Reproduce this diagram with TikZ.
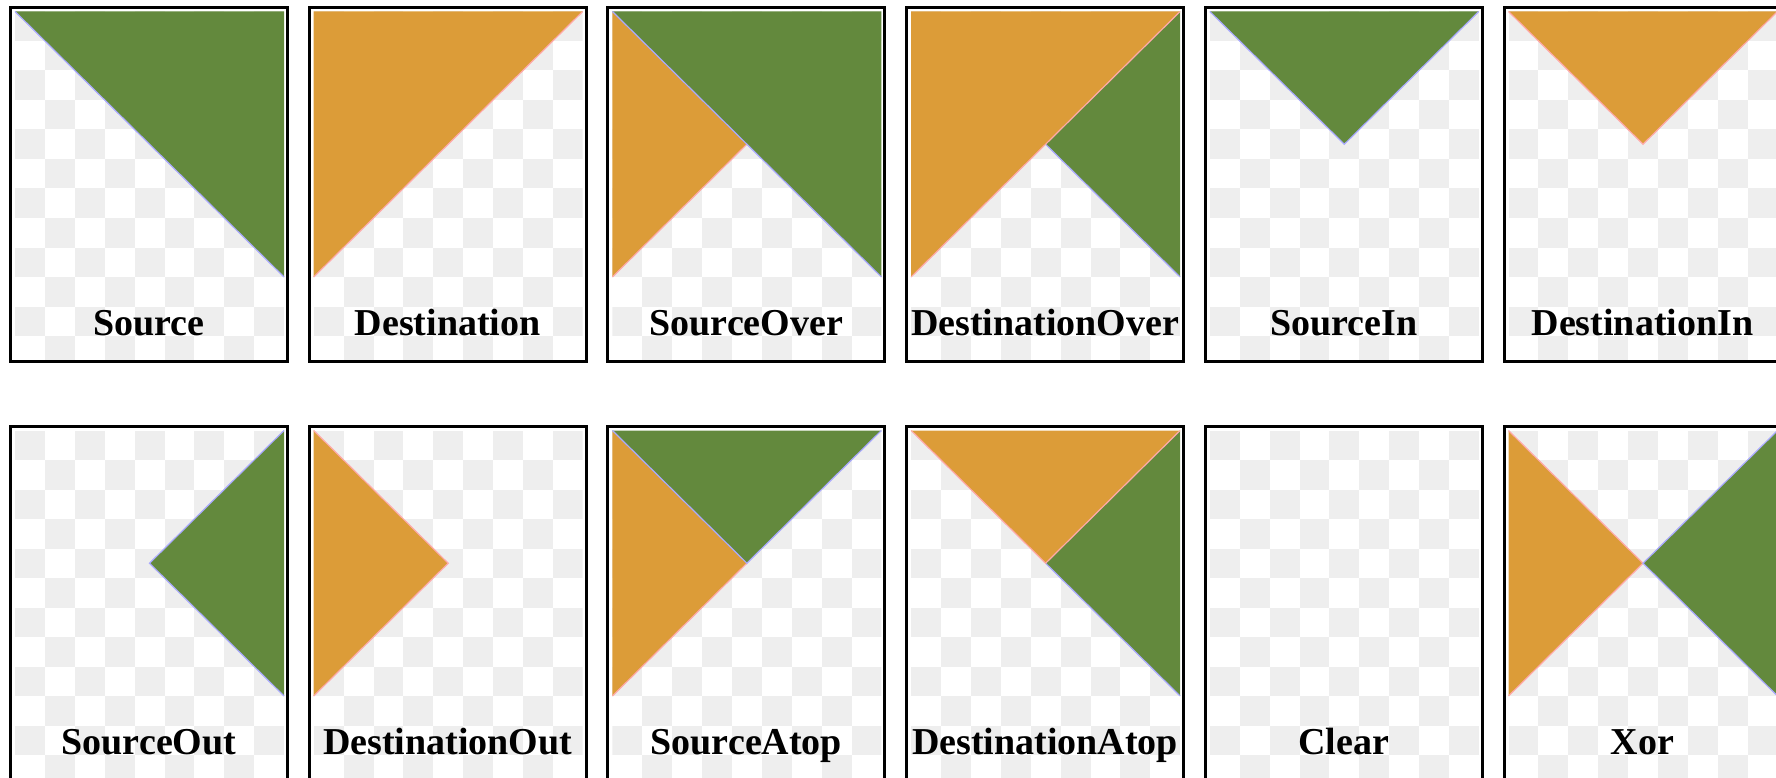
\documentclass[tikz,border=0pt]{standalone}
\usepackage{fontspec}
\setmainfont{Liberation Serif}
\definecolor{src}{RGB}{99,137,61}
\definecolor{dst}{RGB}{220,156,56}
\definecolor{srcedge}{RGB}{170,170,255}
\definecolor{dstedge}{RGB}{255,170,170}
\definecolor{chk}{RGB}{238,238,238}
\tikzset{
  srcfill/.style={fill=src},
  dstfill/.style={fill=dst},
  srcline/.style={draw=srcedge, line width=1.2pt},
  dstline/.style={draw=dstedge, line width=1.2pt},
  frame/.style={draw=black, line width=3pt},
  lbl/.style={font=\fontsize{38}{40}\selectfont\bfseries, anchor=base, inner sep=0pt},
}
\newcommand{\chkboard}{%
  \begin{scope}
    \clip (6,3) rectangle (275,354);
    \foreach \i in {0,...,8}{\foreach \j in {0,...,11}{%
      \pgfmathtruncatemacro{\chkpar}{mod(\i+\j,2)}%
      \ifnum\chkpar=0 \fill[chk] ({6+29.9*\i},{5.5+29.5*\j}) rectangle ++(29.9,29.5);\fi
    }}
  \end{scope}
  \coordinate (LT) at (6,5.5);
  \coordinate (RT) at (275,5.5);
  \coordinate (LB) at (6,271);
  \coordinate (RB) at (275,271);
  \coordinate (C) at (140.5,138.25);
}
\newcommand{\panelframe}{\draw[frame] (1.5,1.5) rectangle (278.5,355.5);}
\begin{document}
\begin{tikzpicture}[x=1pt,y=-1pt]
\useasboundingbox (0,0) rectangle (1776,778);
\clip (0,0) rectangle (1776,778);
% ---------- row 1 ----------
\begin{scope}[shift={(9,6)}]
  \chkboard
  \fill[srcfill] (LT) -- (RT) -- (RB) -- cycle;
  \draw[srcline] (LT) -- (RB);
  \panelframe
  \node[lbl] (source) at (140,329) {Source};
\end{scope}
\begin{scope}[shift={(307.7,6)}]
  \chkboard
  \fill[dstfill] (LT) -- (RT) -- (LB) -- cycle;
  \draw[dstline] (RT) -- (LB);
  \panelframe
  \node[lbl] (destination) at (140,329) {Destination};
\end{scope}
\begin{scope}[shift={(606.4,6)}]
  \chkboard
  \fill[dstfill] (LT) -- (C) -- (LB) -- cycle;
  \fill[srcfill] (LT) -- (RT) -- (RB) -- cycle;
  \draw[dstline] (C) -- (LB);
  \draw[srcline] (LT) -- (RB);
  \panelframe
  \node[lbl] (sourceover) at (140,329) {SourceOver};
\end{scope}
\begin{scope}[shift={(905.1,6)}]
  \chkboard
  \fill[srcfill] (RT) -- (C) -- (RB) -- cycle;
  \fill[dstfill] (LT) -- (RT) -- (LB) -- cycle;
  \draw[srcline] (C) -- (RB);
  \draw[dstline] (RT) -- (LB);
  \panelframe
  \node[lbl] (destinationover) at (140,329) {DestinationOver};
\end{scope}
\begin{scope}[shift={(1203.8,6)}]
  \chkboard
  \fill[srcfill] (LT) -- (RT) -- (C) -- cycle;
  \draw[srcline] (LT) -- (C) -- (RT);
  \panelframe
  \node[lbl] (sourcein) at (140,329) {SourceIn};
\end{scope}
\begin{scope}[shift={(1502.5,6)}]
  \chkboard
  \fill[dstfill] (LT) -- (RT) -- (C) -- cycle;
  \draw[dstline] (LT) -- (C) -- (RT);
  \panelframe
  \node[lbl] (destinationin) at (140,329) {DestinationIn};
\end{scope}
% ---------- row 2 ----------
\begin{scope}[shift={(9,425)}]
  \chkboard
  \fill[srcfill] (RT) -- (C) -- (RB) -- cycle;
  \draw[srcline] (RT) -- (C) -- (RB);
  \panelframe
  \node[lbl] (sourceout) at (140,329) {SourceOut};
\end{scope}
\begin{scope}[shift={(307.7,425)}]
  \chkboard
  \fill[dstfill] (LT) -- (C) -- (LB) -- cycle;
  \draw[dstline] (LT) -- (C) -- (LB);
  \panelframe
  \node[lbl] (destinationout) at (140,329) {DestinationOut};
\end{scope}
\begin{scope}[shift={(606.4,425)}]
  \chkboard
  \fill[dstfill] (LT) -- (C) -- (LB) -- cycle;
  \fill[srcfill] (LT) -- (RT) -- (C) -- cycle;
  \draw[dstline] (C) -- (LB);
  \draw[srcline] (LT) -- (C) -- (RT);
  \panelframe
  \node[lbl] (sourceatop) at (140,329) {SourceAtop};
\end{scope}
\begin{scope}[shift={(905.1,425)}]
  \chkboard
  \fill[srcfill] (RT) -- (C) -- (RB) -- cycle;
  \fill[dstfill] (LT) -- (RT) -- (C) -- cycle;
  \draw[srcline] (C) -- (RB);
  \draw[dstline] (LT) -- (C) -- (RT);
  \panelframe
  \node[lbl] (destinationatop) at (140,329) {DestinationAtop};
\end{scope}
\begin{scope}[shift={(1203.8,425)}]
  \chkboard
  \panelframe
  \node[lbl] (clear) at (140,329) {Clear};
\end{scope}
\begin{scope}[shift={(1502.5,425)}]
  \chkboard
  \fill[dstfill] (LT) -- (C) -- (LB) -- cycle;
  \fill[srcfill] (RT) -- (C) -- (RB) -- cycle;
  \draw[dstline] (LT) -- (C) -- (LB);
  \draw[srcline] (RT) -- (C) -- (RB);
  \panelframe
  \node[lbl] (xor) at (140,329) {Xor};
\end{scope}
\end{tikzpicture}
\end{document}
